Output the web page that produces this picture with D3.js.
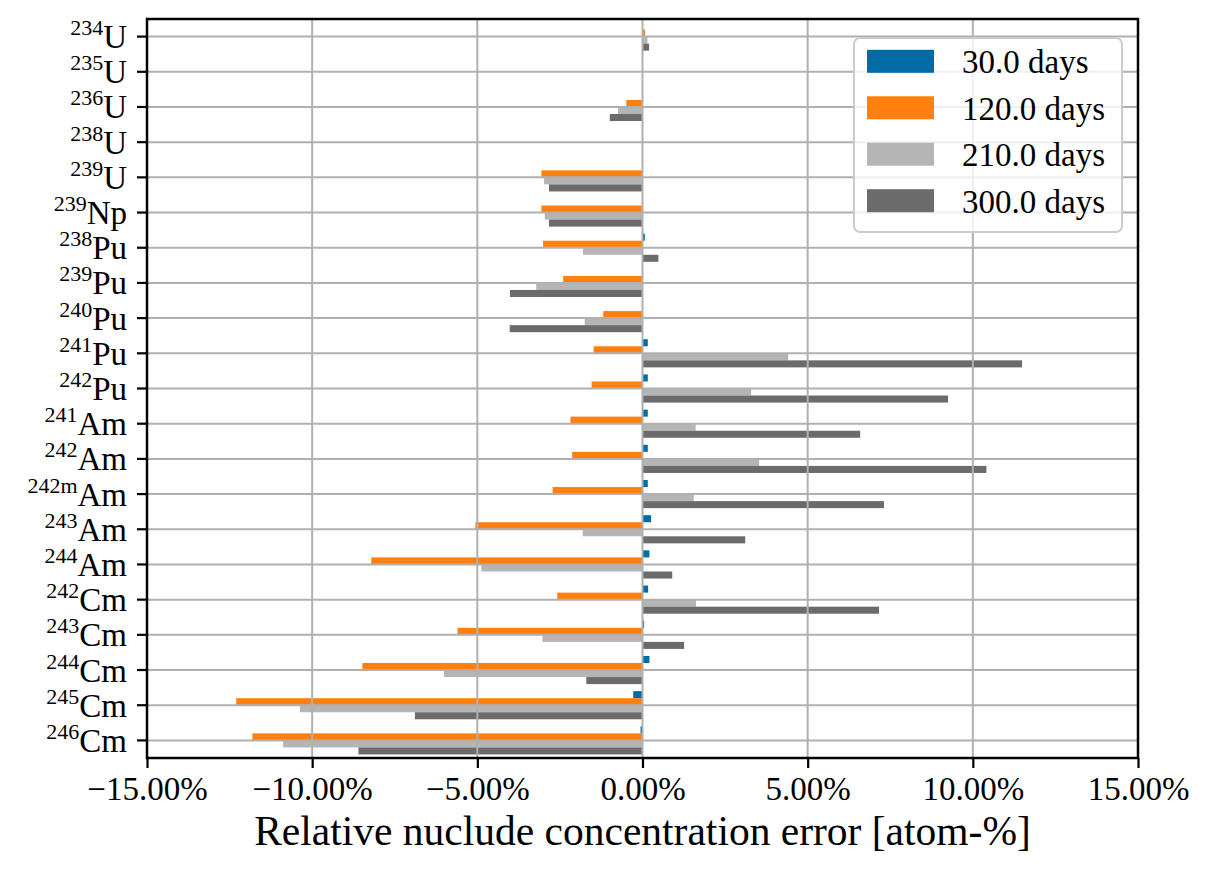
<!DOCTYPE html>
<html>
<head>
<meta charset="utf-8">
<script src="https://cdn.jsdelivr.net/npm/d3@7"></script>
<style>
  html, body { margin: 0; padding: 0; background: #fff; }
  svg text { font-family: "Liberation Serif", "DejaVu Serif", serif; fill: #000; }
</style>
</head>
<body>
<svg id="chart" width="1210" height="880"></svg>
<script>
// ---- Data ----
const massNumbers = ["234","235","236","238","239","239","238","239","240","241","242","241","242","242m","243","244","242","243","244","245","246"];
const elements    = ["U","U","U","U","U","Np","Pu","Pu","Pu","Pu","Pu","Am","Am","Am","Am","Am","Cm","Cm","Cm","Cm","Cm"];
const seriesNames = ["30.0 days","120.0 days","210.0 days","300.0 days"];
const days30  = [0.01, 0, 0.01, 0, 0, 0, 0.07, 0.01, 0.01, 0.16, 0.16, 0.16, 0.16, 0.16, 0.26, 0.21, 0.17, 0.05, 0.21, -0.28, -0.06];
const days120 = [0.08, 0, -0.49, 0, -3.06, -3.06, -3.01, -2.40, -1.19, -1.48, -1.54, -2.18, -2.13, -2.72, -5.06, -8.21, -2.58, -5.60, -8.48, -12.30, -11.81];
const days210 = [0.15, 0, -0.74, 0, -2.98, -2.96, -1.80, -3.22, -1.75, 4.41, 3.29, 1.61, 3.53, 1.55, -1.81, -4.88, 1.62, -3.03, -6.01, -10.37, -10.88];
const days300 = [0.20, 0, -0.99, -0.01, -2.83, -2.83, 0.48, -4.01, -4.02, 11.49, 9.25, 6.59, 10.41, 7.31, 3.11, 0.90, 7.16, 1.26, -1.70, -6.89, -8.60];
const xTicks = [-15, -10, -5, 0, 5, 10, 15];
const xLabel = "Relative nuclude concentration error [atom-%]";

// ---- Styles / layout ----
const colors = ["#006BA4", "#FF800E", "#B5B5B5", "#6B6B6B"];
const series = [days30, days120, days210, days300];
const categories = massNumbers.map((m, i) => m + elements[i]);
const L = 147, R = 1138, T = 19, B = 758;

const svg = d3.select("#chart");
const x = d3.scaleLinear().domain([-15, 15]).range([L, R]);
const y = d3.scaleBand().domain(categories).range([T, B]).paddingInner(0).paddingOuter(0);
const step = y.step();
const barH = step * 0.2;

// Bars
series.forEach((vals, k) => {
  svg.append("g").selectAll("rect").data(vals).join("rect")
    .attr("x", d => x(Math.min(0, d)))
    .attr("width", d => Math.abs(x(d) - x(0)))
    .attr("y", (d, i) => y(categories[i]) + step / 2 + (k - 2) * barH)
    .attr("height", barH)
    .attr("fill", colors[k]);
});

// Grid (drawn over bars like matplotlib default)
const grid = svg.append("g").attr("stroke", "#b0b0b0").attr("stroke-width", 2);
grid.selectAll("line.v").data(xTicks).join("line")
  .attr("x1", d => x(d)).attr("x2", d => x(d)).attr("y1", T).attr("y2", B);
grid.selectAll("line.h").data(categories).join("line")
  .attr("x1", L).attr("x2", R)
  .attr("y1", d => y(d) + step / 2).attr("y2", d => y(d) + step / 2);

// X axis
const fmt = v => (v < 0 ? "\u2212" : "") + Math.abs(v).toFixed(2) + "%";
const xAxis = d3.axisBottom(x).tickValues(xTicks).tickFormat(fmt).tickSize(10).tickPadding(8);
const gx = svg.append("g").attr("transform", `translate(0,${B})`).call(xAxis);
gx.select(".domain").remove();
gx.selectAll(".tick line").attr("stroke", "#000").attr("stroke-width", 2.2);
gx.selectAll(".tick text").attr("font-size", 33).attr("font-family", "Liberation Serif")
  .attr("y", 800 - B).attr("dy", 0);

// Y axis
const yAxis = d3.axisLeft(y).tickSize(10).tickFormat("");
const gy = svg.append("g").attr("transform", `translate(${L},0)`).call(yAxis);
gy.select(".domain").remove();
gy.selectAll(".tick line").attr("stroke", "#000").attr("stroke-width", 2.2);
gy.selectAll(".tick").each(function(d, i) {
  const t = d3.select(this).append("text")
    .attr("x", -20).attr("y", 11.5)
    .attr("text-anchor", "end")
    .attr("font-size", 33);
  t.append("tspan").attr("font-size", 22).attr("dy", -13).text(massNumbers[i]);
  t.append("tspan").attr("dy", 13).text(elements[i]);
});

// Frame
svg.append("rect").attr("x", L).attr("y", T).attr("width", R - L).attr("height", B - T)
  .attr("fill", "none").attr("stroke", "#000").attr("stroke-width", 2.5);

// X label
svg.append("text").attr("x", (L + R) / 2).attr("y", 845).attr("text-anchor", "middle")
  .attr("font-size", 41.5).text(xLabel);

// Legend
const lg = svg.append("g");
lg.append("rect").attr("x", 854).attr("y", 38).attr("width", 268).attr("height", 194)
  .attr("rx", 6).attr("fill", "#fff").attr("fill-opacity", 0.8)
  .attr("stroke", "#cccccc").attr("stroke-width", 2);
const rowY = d3.scaleLinear().domain([0, 3]).range([61.3, 200.7]);
seriesNames.forEach((name, k) => {
  lg.append("rect").attr("x", 867).attr("y", rowY(k) - 11.5).attr("width", 67).attr("height", 23)
    .attr("fill", colors[k]);
  lg.append("text").attr("x", 962).attr("y", rowY(k) + 12).attr("font-size", 33).text(name);
});
</script>
</body>
</html>
